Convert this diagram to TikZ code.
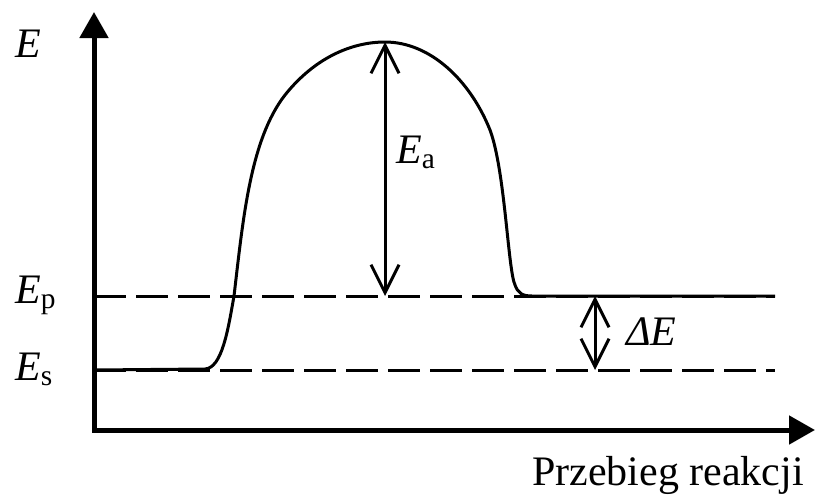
\documentclass[tikz,border=0pt]{standalone}
\usepackage{fontspec}
\setmainfont{Liberation Serif}
\usetikzlibrary{arrows.meta}

\begin{document}
\begin{tikzpicture}[
    x=1pt, y=-1pt,
    axis line/.style={line width=5pt, line join=miter, {Triangle[length=26pt,width=28pt]}-{Triangle[length=26pt,width=28pt]}},
    level line/.style={line width=3pt, dash pattern=on 32pt off 10pt},
    energy curve/.style={line width=3pt},
    energy arrow/.style={line width=3pt, {Straight Barb[length=28pt,width=28pt]}-{Straight Barb[length=28pt,width=28pt]}},
    label node/.style={inner sep=0pt, font=\fontsize{42}{45}\selectfont}
]
    \useasboundingbox (0,0) rectangle (818,496);

    % Axes
    \coordinate (O) at (94,430);
    \coordinate (Ytop) at (94,12);
    \coordinate (Xend) at (815,430);
    \draw[axis line] (Ytop) -- (O) -- (Xend);

    % Levels
    \coordinate (Ps) at (94,296);
    \coordinate (Pe) at (775,296);
    \coordinate (Ss) at (94,370);
    \coordinate (Se) at (775,370);
    \draw[level line] (Ps) -- (Pe);
    \draw[level line] (Ss) -- (Se);

    % Curve
    \coordinate (Peak) at (385,42);
    \draw[energy curve] (Ss) -- (205,369) .. controls (222,368) and (228,330) .. (234,296)
        .. controls (243,220) and (250,140) .. (285,95)
        .. controls (317,55) and (355,42) .. (Peak)
        .. controls (430,42) and (470,80) .. (490,130)
        .. controls (505,170) and (508,270) .. (515,285)
        .. controls (518,293) and (522,296) .. (532,296) -- (Pe);

    % Arrows
    \coordinate (EaBot) at (385,296);
    \coordinate (dEtop) at (595,296);
    \coordinate (dEbot) at (595,370);
    \draw[energy arrow] (Peak) -- (EaBot);
    \draw[energy arrow] (dEtop) -- (dEbot);

    % Labels
    \node[label node, anchor=base west] (E) at (15,57) {\textit{E}};
    \node[label node, anchor=base west] (Ep) at (15,303) {\textit{E}\textsubscript{p}};
    \node[label node, anchor=base west] (Es) at (15,380) {\textit{E}\textsubscript{s}};
    \node[label node, anchor=base west] (Ea) at (396,163) {\textit{E}\textsubscript{a}};
    \node[label node, anchor=base west] (dE) at (626,345) {\textit{ΔE}};
    \node[label node, anchor=base west] (xlbl) at (532,485) {Przebieg reakcji};
\end{tikzpicture}
\end{document}
